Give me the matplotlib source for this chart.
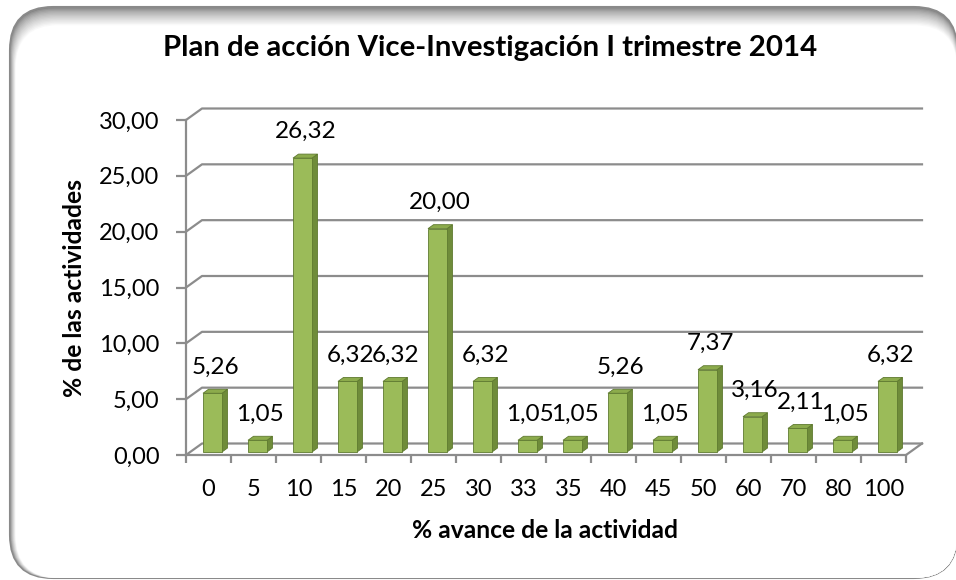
import matplotlib
matplotlib.use("Agg")
import matplotlib.pyplot as plt
from matplotlib.patches import Polygon, Rectangle, FancyBboxPatch

categories = ["0", "5", "10", "15", "20", "25", "30", "33", "35", "40", "45", "50", "60", "70", "80", "100"]
values = [5.26, 1.05, 26.32, 6.32, 6.32, 20.00, 6.32, 1.05, 1.05, 5.26, 1.05, 7.37, 3.16, 2.11, 1.05, 6.32]
yticks = [0, 5, 10, 15, 20, 25, 30]

title = "Plan de acción Vice-Investigación I trimestre 2014"
xlabel = "% avance de la actividad"
ylabel = "% de las actividades"

plt.rcParams['font.family'] = ['Lato', 'DejaVu Sans']

W, H = 956, 580
fig = plt.figure(figsize=(W / 100, H / 100), dpi=100)

# rounded frame with soft inner shadow at the top/left
n = 14
for k in range(n + 1):
    g = 0.5 + 0.5 * (k / n) ** 0.7
    x0, y0 = 10 + k * 0.4, 2
    x1, y1 = 957, 573 - k * 1.3
    box = FancyBboxPatch((x0 / W, y0 / H), (x1 - x0) / W, (y1 - y0) / H,
                         boxstyle="round,pad=0,rounding_size=0.045",
                         transform=fig.transFigure, facecolor=(g, g, g),
                         edgecolor="#8a8a8a" if k == 0 else "none", lw=1.5,
                         mutation_aspect=W / H, zorder=-10)
    fig.patches.append(box)

# front plane of plot area in pixels
left, right, top, bottom = 186, 906, 120, 455
ax = fig.add_axes([left / W, (H - bottom) / H, (right - left) / W, (bottom - top) / H])
ax.set_xlim(0, len(categories))
ax.set_ylim(0, 30)
ax.patch.set_visible(False)

pxx = (right - left) / len(categories)
pxy = (bottom - top) / 30
dx, dy = 16 / pxx, 11.5 / pxy  # wall depth

grid = "#8c8c8c"
for v in yticks:
    ax.plot([0, dx, len(categories) + dx], [v, v + dy, v + dy], color=grid, lw=1.6,
            clip_on=False, zorder=1)
ax.plot([len(categories), len(categories) + dx], [0, dy], color=grid, lw=1.6, clip_on=False, zorder=1)

for s in ["top", "right"]:
    ax.spines[s].set_visible(False)
for s in ["left", "bottom"]:
    ax.spines[s].set_color(grid)
    ax.spines[s].set_linewidth(1.6)

ax.set_yticks(yticks)
ax.set_yticklabels([f"{v:.2f}".replace(".", ",") for v in yticks], fontsize=17)
ax.tick_params(axis="y", length=7, width=1.6, color=grid, pad=12)
ax.set_xticks([i + 0.5 for i in range(len(categories))])
ax.set_xticklabels(categories, fontsize=17)
ax.set_xticks(range(len(categories) + 1), minor=True)
ax.tick_params(axis="x", which="major", length=0, pad=17)
ax.tick_params(axis="x", which="minor", length=6, width=1.6, color=grid)

# bars
w = 19 / pxx
bdx, bdy = 4 / pxx, 3 / pxy
ddx, ddy = 5.5 / pxx, 4 / pxy
front, side, topc, edge = "#9bbb59", "#6f8c3a", "#8cab4c", "#5f7a30"
for i, v in enumerate(values):
    x0 = i + 0.5 - w / 2 + bdx
    x1 = x0 + w
    ax.add_patch(Polygon([(x1, bdy), (x1 + ddx, bdy + ddy), (x1 + ddx, bdy + v + ddy), (x1, bdy + v)],
                         facecolor=side, edgecolor=edge, lw=0.6, zorder=3, clip_on=False))
    ax.add_patch(Polygon([(x0, bdy + v), (x0 + ddx, bdy + v + ddy), (x1 + ddx, bdy + v + ddy), (x1, bdy + v)],
                         facecolor=topc, edgecolor=edge, lw=0.6, zorder=3, clip_on=False))
    ax.add_patch(Rectangle((x0, bdy), w, v, facecolor=front, edgecolor=edge, lw=0.6, zorder=4, clip_on=False))
    ax.annotate(f"{v:.2f}".replace(".", ","), xy=(x0 + w / 2 + ddx / 2, v + bdy), xytext=(0, 19),
                textcoords="offset points", ha="center", va="center", fontsize=17.5, zorder=5)

fig.text(490 / W, 1 - 48 / H, title, ha="center", va="center", fontsize=21.2, fontweight="bold")
fig.text(545 / W, 1 - 530 / H, xlabel, ha="center", va="center", fontsize=17.7, fontweight="bold")
fig.text(75 / W, 1 - 288 / H, ylabel, ha="center", va="center", rotation=90, fontsize=17.7, fontweight="bold")

fig.savefig("out.png", dpi=100)
